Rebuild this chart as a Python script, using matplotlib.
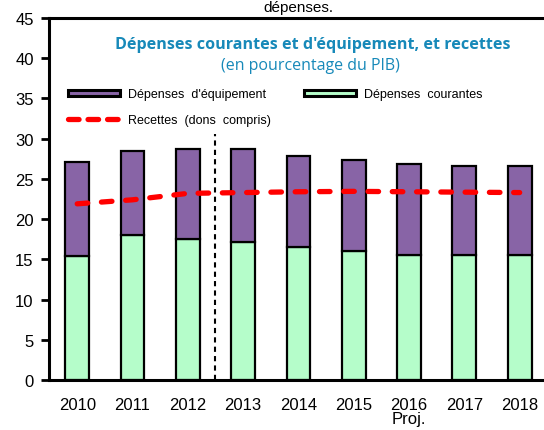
import numpy as np
import matplotlib
matplotlib.use('Agg')
import matplotlib.pyplot as plt
from matplotlib.patches import Patch
from matplotlib.lines import Line2D

years = ['2010', '2011', '2012', '2013', '2014', '2015', '2016\nProj.', '2017', '2018']
courantes = [15.4, 18.0, 17.5, 17.2, 16.5, 16.0, 15.6, 15.6, 15.6]
totales = [27.1, 28.5, 28.7, 28.7, 27.9, 27.3, 26.9, 26.6, 26.6]
equipement = [t - c for t, c in zip(totales, courantes)]
recettes = [21.9, 22.4, 23.2, 23.3, 23.4, 23.45, 23.4, 23.35, 23.3]

PURPLE = '#8864a6'
GREEN = '#b5fdca'
TITLE_BLUE = '#1789b9'

plt.rcParams['font.family'] = ['Liberation Sans', 'DejaVu Sans']

fig = plt.figure(figsize=(5.44, 4.31), dpi=100)
ax = fig.add_axes([49 / 544, 1 - 381 / 431, 1 - 49 / 544, (381 - 19) / 431])

x = np.arange(len(years))
w = 0.43
ax.bar(x, courantes, w, color=GREEN, edgecolor='black', linewidth=1.6, zorder=2)
ax.bar(x, equipement, w, bottom=courantes, color=PURPLE, edgecolor='black',
       linewidth=1.6, zorder=2)
ax.plot(x, recettes, color='#ff0000', linewidth=3.8, dashes=(2.0, 2.6),
        dash_capstyle='round', zorder=3)
ax.plot([2.5, 2.5], [0, 30.6], color='black', linewidth=1.5, dashes=(2.5, 2),
        zorder=1)

ax.set_xlim(-0.51, 8.44)
ax.set_ylim(0, 45)
ax.set_yticks(np.arange(0, 46, 5))
ax.set_xticks(x)
ax.set_xticklabels(years, linespacing=0.95)
ax.tick_params(axis='y', direction='out', length=6, width=2, labelsize=12, pad=5)
ax.tick_params(axis='x', length=0, labelsize=12, pad=12)
for s in ['left', 'bottom', 'top']:
    ax.spines[s].set_linewidth(2.2)
ax.spines['right'].set_visible(False)

ax.text(0.533, 0.928, "Dépenses courantes et d'équipement, et recettes",
        transform=ax.transAxes, ha='center', va='center', fontsize=11.6,
        fontweight='bold', color=TITLE_BLUE, family=['Open Sans', 'DejaVu Sans'])
ax.text(0.528, 0.870, "(en pourcentage du PIB)", transform=ax.transAxes,
        ha='center', va='center', fontsize=11.5, color=TITLE_BLUE,
        family=['Open Sans', 'DejaVu Sans'])

handles = [Patch(facecolor=PURPLE, edgecolor='black', linewidth=2.2),
           Patch(facecolor=GREEN, edgecolor='black', linewidth=2.2),
           Line2D([0], [0], color='#ff0000', linewidth=3.8, dashes=(2.0, 1.7),
                  dash_capstyle='round')]
labels = ["Dépenses  d'équipement", "Dépenses  courantes",
          "Recettes  (dons  compris)"]
order = [0, 2, 1]
ax.legend([handles[i] for i in order], [labels[i] for i in order], ncol=2,
          loc='upper left', bbox_to_anchor=(0.038, 0.806), frameon=False,
          fontsize=9, handlelength=4.2, handleheight=0.4, handletextpad=0.6,
          columnspacing=2.65, labelspacing=1.1, borderaxespad=0, borderpad=0)

fig.text(298 / 544, 1 - 1 / 431, 'dépenses.', ha='center', va='top',
         fontsize=11)

fig.savefig('out.png', dpi=100)
